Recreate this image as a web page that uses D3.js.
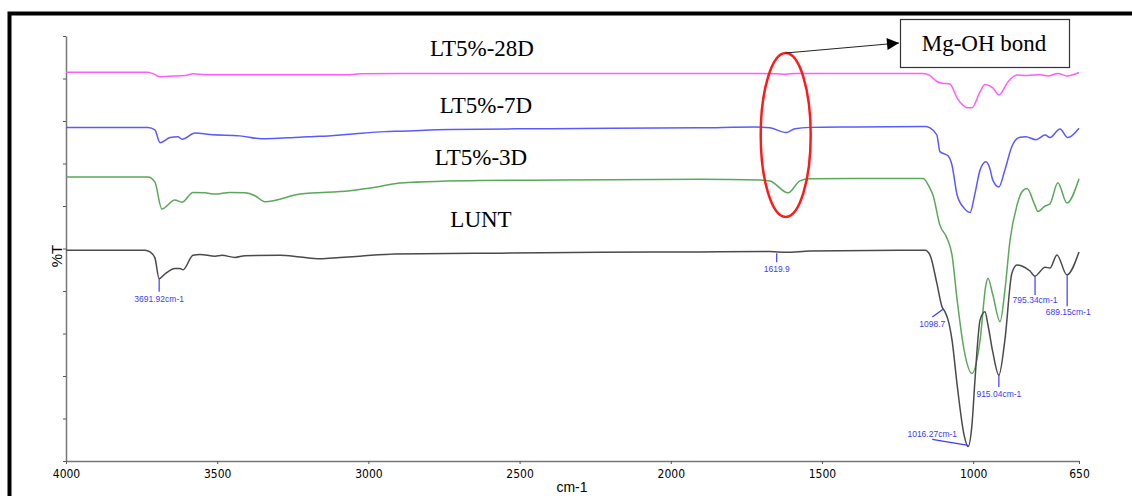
<!DOCTYPE html>
<html>
<head>
<meta charset="utf-8">
<script src="https://cdn.jsdelivr.net/npm/d3@7"></script>
<style>
  body { margin: 0; background: #fff; }
  svg { display: block; }
</style>
</head>
<body>
<svg id="chart" width="1132" height="496"></svg>
<script>
// series: [wavenumber cm-1, %T]
const lunt = [
  [4000, 49.6], [3788, 49.6], [3739, 49.6], [3722, 49.2], [3706, 47.8],
  [3692, 42.9], [3673, 44.0], [3640, 45.3], [3623, 45.3], [3613, 45.0], [3580, 48.4],
  [3557, 48.6], [3507, 48.2], [3484, 48.4], [3441, 47.9], [3408, 48.3], [3292, 48.4],
  [3226, 48.0], [3160, 47.6], [3094, 47.9], [3028, 48.2], [2912, 48.7], [2565, 48.9],
  [2234, 49.1], [1903, 49.2], [1672, 49.3], [1619, 49.1], [1540, 49.4], [1242, 49.6],
  [1159, 49.6], [1143, 48.5], [1120, 41.8], [1103, 36.3], [1093, 35.1], [1083, 33.2],
  [1070, 28.5], [1053, 17.9], [1030, 6.1], [1017, 3.4], [1004, 8.5], [994, 19.1],
  [977, 33.2], [961, 35.1], [951, 32.0], [935, 25.6], [915, 20.2], [895, 28.5],
  [872, 44.2], [855, 46.1], [839, 45.9], [812, 44.7], [796, 43.5], [762, 45.6],
  [746, 45.4], [723, 48.5], [690, 43.8], [650, 49.2]
];
const lt3d = [
  [4000, 66.8], [3729, 66.8], [3706, 65.6], [3683, 59.3], [3640, 61.4], [3616, 60.9],
  [3580, 63.2], [3540, 63.1], [3507, 62.8], [3458, 63.2], [3408, 63.1], [3375, 62.4],
  [3342, 61.0], [3226, 62.8], [3061, 63.6], [2962, 64.6], [2895, 65.4], [2631, 66.0],
  [2366, 66.1], [1900, 66.3], [1705, 66.1], [1672, 65.9], [1612, 63.1], [1573, 65.9],
  [1540, 66.4], [1400, 66.5], [1202, 66.5], [1166, 66.5], [1143, 64.2], [1133, 62.6],
  [1110, 55.5], [1087, 52.5], [1070, 48.5], [1053, 37.9], [1030, 26.1], [1004, 20.6],
  [977, 28.5], [958, 41.4], [951, 43.0], [935, 39.1], [911, 32.8], [895, 40.2],
  [878, 52.0], [855, 60.2], [839, 63.3], [822, 64.1], [796, 60.2], [786, 58.7],
  [762, 60.0], [746, 60.5], [720, 65.5], [690, 60.7], [650, 66.4]
];
const lt7d = [
  [4000, 78.5], [3729, 78.5], [3706, 77.9], [3689, 74.9], [3656, 76.1], [3630, 76.3],
  [3616, 75.7], [3573, 77.2], [3524, 76.8], [3425, 76.5], [3352, 75.8], [3226, 76.2],
  [3160, 76.4], [3061, 76.9], [2945, 77.5], [2895, 77.6], [2730, 78.0], [2400, 78.2],
  [1900, 78.4], [1721, 78.6], [1672, 78.4], [1619, 77.3], [1589, 78.2], [1540, 78.5],
  [1400, 78.6], [1159, 78.7], [1143, 78.4], [1120, 76.7], [1110, 72.8], [1087, 72.0],
  [1083, 71.8], [1070, 69.6], [1053, 62.6], [1030, 59.5], [1010, 58.5], [995, 62.6],
  [977, 68.5], [958, 70.4], [945, 68.9], [935, 66.1], [915, 64.5], [895, 68.5],
  [872, 74.0], [845, 76.2], [826, 76.3], [792, 75.6], [762, 76.7], [746, 76.1],
  [713, 78.1], [687, 76.1], [650, 78.3]
];
const lt28d = [
  [4000, 91.5], [3729, 91.5], [3706, 90.9], [3689, 90.4], [3673, 90.5], [3606, 90.7],
  [3580, 91.1], [3540, 90.9], [3400, 90.9], [3127, 90.9], [3061, 90.9], [3028, 91.1],
  [2895, 91.2], [2500, 91.2], [2000, 91.2], [1705, 91.2], [1649, 91.1], [1619, 91.0],
  [1589, 91.2], [1400, 91.2], [1166, 91.2], [1143, 90.7], [1120, 89.3], [1103, 88.9],
  [1077, 88.7], [1053, 85.4], [1035, 83.8], [1020, 83.1], [1004, 83.1], [977, 86.9],
  [961, 88.6], [935, 87.8], [915, 86.1], [885, 89.2], [855, 90.8], [822, 90.7],
  [779, 90.9], [753, 90.6], [720, 91.2], [690, 90.6], [650, 91.4]
];

const seriesNames = ['LT5%-28D', 'LT5%-7D', 'LT5%-3D', 'LUNT'];
const seriesData = [lt28d, lt7d, lt3d, lunt];
const seriesColors = ['#ff5cff', '#5a5aff', '#5aa85a', '#4a4a4a'];

const xTicks = [4000, 3500, 3000, 2500, 2000, 1500, 1000, 650];
const yTicks = d3.range(0, 101, 10);

// peaks marked on the LUNT spectrum
const peakWn = [3691.92, 1619.9, 1098.7, 1016.27, 915.04, 795.34, 689.15];
const peakText = ['3691.92cm-1', '1619.9', '1098.7', '1016.27cm-1', '915.04cm-1', '795.34cm-1', '689.15cm-1'];

const calloutText = 'Mg-OH bond';
const calloutWn = 1619.9;

const margin = { top: 36, right: 53, bottom: 35, left: 66 };
const W = 1132, H = 496;
const width = W - margin.left - margin.right;
const height = H - margin.top - margin.bottom;

const svg = d3.select('#chart');

// outer frame (cut at right and bottom)
svg.append('path')
  .attr('d', 'M9.5,496 V13.5 H1132')
  .attr('fill', 'none')
  .attr('stroke', '#000')
  .attr('stroke-width', 4);

const g = svg.append('g')
  .attr('transform', 'translate(' + margin.left + ',' + margin.top + ')');

const x = d3.scaleLinear().domain([4000, 650]).range([0, width]);
const y = d3.scaleLinear().domain([0, 100]).range([height, 0]);

const xAxis = d3.axisBottom(x).tickValues(xTicks).tickSize(3).tickSizeOuter(0).tickFormat(d3.format('d'));
const yAxis = d3.axisLeft(y).tickValues(yTicks).tickSize(3).tickSizeOuter(0).tickFormat('');

const gX = g.append('g')
  .attr('transform', 'translate(0,' + height + ')')
  .call(xAxis);
gX.select('.domain').attr('stroke', '#777').attr('stroke-width', 1.5);
gX.selectAll('.tick line').attr('stroke', '#555');
gX.selectAll('.tick text')
  .attr('dy', '0.9em')
  .style('font-family', '"DejaVu Sans Condensed", "Liberation Sans Narrow", sans-serif')
  .style('font-size', '12px')
  .style('fill', '#000');

const gY = g.append('g').call(yAxis);
gY.select('.domain').attr('stroke', '#777').attr('stroke-width', 1.5);
gY.selectAll('.tick line').attr('stroke', '#555');

svg.append('text')
  .attr('x', 572)
  .attr('y', 492)
  .attr('text-anchor', 'middle')
  .style('font-family', '"Liberation Sans", Arial, sans-serif')
  .style('font-size', '14px')
  .style('fill', '#000')
  .text('cm-1');

svg.append('text')
  .attr('transform', 'translate(62,256) rotate(-90)')
  .attr('text-anchor', 'middle')
  .style('font-family', '"Liberation Sans", Arial, sans-serif')
  .style('font-size', '15px')
  .style('fill', '#000')
  .text('%T');

const line = d3.line()
  .x(d => x(d[0]))
  .y(d => y(d[1]))
  .curve(d3.curveMonotoneX);

g.selectAll('.spectrum')
  .data(seriesData)
  .enter()
  .append('path')
  .classed('spectrum', true)
  .attr('d', d => line(d))
  .attr('fill', 'none')
  .attr('stroke', (d, i) => seriesColors[i])
  .attr('stroke-width', 1.5);

// series names sit above each trace
const nameX = [482, 486, 481, 481];
const nameY = [56, 113, 165, 227];
svg.selectAll('.series-name')
  .data(seriesNames)
  .enter()
  .append('text')
  .classed('series-name', true)
  .attr('x', (d, i) => nameX[i])
  .attr('y', (d, i) => nameY[i])
  .attr('text-anchor', 'middle')
  .style('font-family', '"Liberation Serif", "Times New Roman", serif')
  .style('font-size', '23px')
  .style('fill', '#000')
  .text(d => d);

// value of LUNT at a wavenumber
function luntAt(wn) {
  for (let i = 0; i < lunt.length - 1; i++) {
    const a = lunt[i], b = lunt[i + 1];
    if (wn <= a[0] && wn >= b[0]) {
      const t = (a[0] - wn) / (a[0] - b[0]);
      return a[1] + t * (b[1] - a[1]);
    }
  }
  return lunt[lunt.length - 1][1];
}

// leader start/end offset and label offset from each peak
const leaderStart = [[0, 0], [-9, 1], [0, 0], [0, 0], [0, 0], [0, 0], [0, 0]];
const leader = [[0, 13], [-9, 10], [-11, 8], [-36, -6], [0, 12], [0, 19], [0, 32]];
const labelOff = [[0, 20], [-9, 17], [-11, 15], [-36, -11], [0, 19], [0, 24], [1, 38]];

const peaks = g.selectAll('.peak')
  .data(peakWn)
  .enter()
  .append('g')
  .classed('peak', true)
  .attr('transform', d => 'translate(' + x(d) + ',' + y(luntAt(d)) + ')');

peaks.append('line')
  .attr('x1', (d, i) => leaderStart[i][0])
  .attr('y1', (d, i) => leaderStart[i][1])
  .attr('x2', (d, i) => leader[i][0])
  .attr('y2', (d, i) => leader[i][1])
  .attr('stroke', '#3b3bff')
  .attr('stroke-width', 1.2);

peaks.append('text')
  .attr('x', (d, i) => labelOff[i][0])
  .attr('y', (d, i) => labelOff[i][1])
  .attr('dy', '0.35em')
  .attr('text-anchor', 'middle')
  .style('font-family', '"Liberation Sans", Arial, sans-serif')
  .style('font-size', '8.5px')
  .style('fill', '#3b3bff')
  .text((d, i) => peakText[i]);

// red ellipse around the Mg-OH band with the callout box
const cx = x(calloutWn);
const ellipseTop = 53;
g.append('ellipse')
  .attr('cx', cx)
  .attr('cy', 135 - margin.top)
  .attr('rx', 25)
  .attr('ry', 82)
  .attr('fill', 'none')
  .attr('stroke', '#ff1a1a')
  .attr('stroke-width', 2.5);

svg.append('defs').append('marker')
  .attr('id', 'arrow')
  .attr('viewBox', '0 0 10 10')
  .attr('refX', 10).attr('refY', 5)
  .attr('markerWidth', 15).attr('markerHeight', 12)
  .attr('markerUnits', 'userSpaceOnUse')
  .attr('orient', 'auto')
  .append('path')
  .attr('d', 'M0,0 L10,5 L0,10 Z')
  .attr('fill', '#000');

svg.append('line')
  .attr('x1', cx + margin.left)
  .attr('y1', ellipseTop)
  .attr('x2', 899)
  .attr('y2', 43)
  .attr('stroke', '#222')
  .attr('stroke-width', 1)
  .attr('marker-end', 'url(#arrow)');

svg.append('rect')
  .attr('x', 900.5).attr('y', 19.5)
  .attr('width', 169).attr('height', 48)
  .attr('fill', '#fff')
  .attr('stroke', '#333')
  .attr('stroke-width', 1.2);

svg.append('text')
  .attr('x', 984)
  .attr('y', 51)
  .attr('text-anchor', 'middle')
  .style('font-family', '"Liberation Serif", "Times New Roman", serif')
  .style('font-size', '23px')
  .style('fill', '#000')
  .text(calloutText);
</script>
</body>
</html>
